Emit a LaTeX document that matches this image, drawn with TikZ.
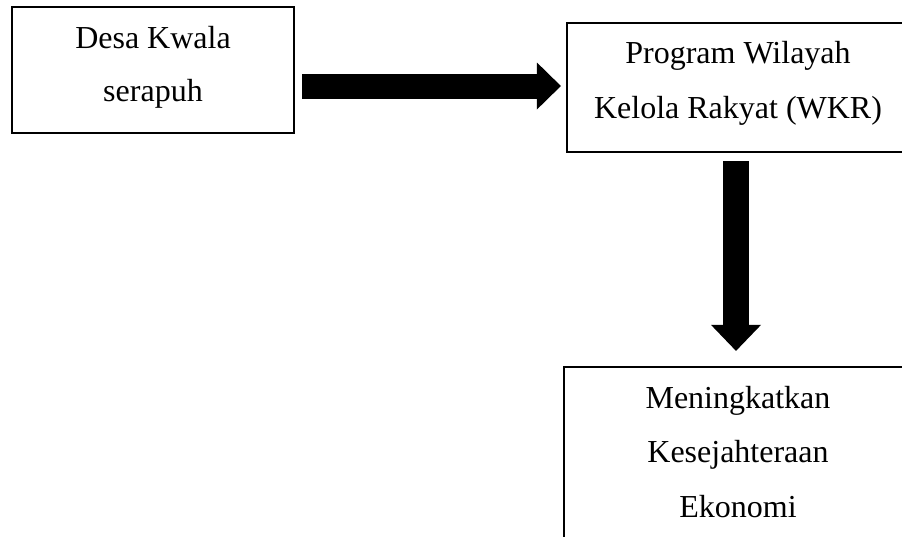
\documentclass[tikz,border=0pt]{standalone}
\usepackage{fontspec}
\setmainfont{Liberation Serif}
\usetikzlibrary{arrows.meta}
\begin{document}
\begin{tikzpicture}[x=1pt,y=-1pt,
  box/.style={draw, line width=2.2pt, inner sep=0pt},
  txt/.style={anchor=base, inner sep=0pt, font=\fontsize{32}{38}\selectfont},
  bigarrowh/.style={line width=25pt, -{Triangle[width=47pt,length=24pt,line width=0pt]}},
  bigarrowv/.style={line width=26pt, -{Triangle[width=50pt,length=26pt,line width=0pt]}}
]
\useasboundingbox (0,0) rectangle (902,536);
\node[box, minimum width=282pt, minimum height=126pt] (b1) at (153,70) {};
\node[box, minimum width=338pt, minimum height=129pt] (b2) at (736,87.5) {};
\node[box, minimum width=344pt, minimum height=193pt] (b3) at (736,463.5) {};
\node[txt] (t1a) at (153,48.3) {Desa Kwala};
\node[txt] (t1b) at (153,101.7) {serapuh};
\node[txt] (t2a) at (738,63.3) {Program Wilayah};
\node[txt] (t2b) at (738,118.3) {Kelola Rakyat (WKR)};
\node[txt] (t3a) at (738,408) {Meningkatkan};
\node[txt] (t3b) at (738,462) {Kesejahteraan};
\node[txt] (t3c) at (738,517) {Ekonomi};
\coordinate (a1e) at ([yshift=1.5pt]b2.west);
\draw[bigarrowh, shorten <=7pt, shorten >=5pt] (b1.east |- a1e) -- (a1e);
\draw[bigarrowv, shorten <=8pt, shorten >=15pt] (b2.south) -- (b3.north);
\end{tikzpicture}
\end{document}
